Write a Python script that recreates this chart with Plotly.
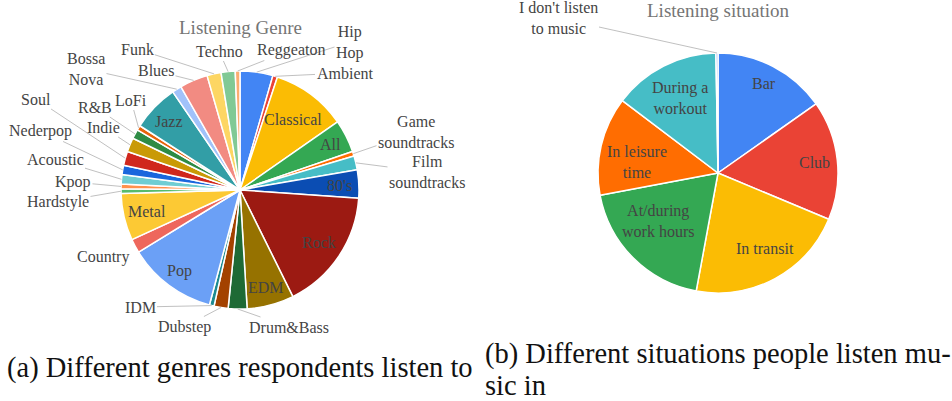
import math
import plotly.graph_objects as go

W, H = 952, 401

# ---------------- data ----------------
genre_labels = ["Hip Hop", "Ambient", "Classical", "All", "Game soundtracks", "Film soundtracks",
                "80's", "Rock", "EDM", "Drum&Bass", "Dubstep", "IDM", "Pop", "Country", "Metal",
                "Hardstyle", "Kpop", "Acoustic", "Nederpop", "Soul", "Indie", "R&B", "LoFi", "Jazz",
                "Bossa Nova", "Blues", "Funk", "Techno", "Reggeaton"]
genre_counts = [7, 1, 16, 7, 1, 3, 6, 26, 10, 4, 3, 1, 19, 3, 10,
                1, 1, 2, 2, 3, 3, 2, 1, 10, 2, 6, 3, 3, 1]

situation_labels = ["Bar", "Club", "In transit", "At/during work hours", "In leisure time",
                    "During a workout", "I don't listen to music"]
situation_counts = [55, 58, 78, 69, 48, 52, 1]

genre_title = "Listening Genre"
situation_title = "Listening situation"
caption_a = "(a) Different genres respondents listen to"
caption_b1 = "(b) Different situations people listen mu-"
caption_b2 = "sic in"

# ---------------- styles ----------------
genre_colors = ["#4285F4", "#EA4335", "#FBBC04", "#34A853", "#FF6D01", "#46BDC6",
                "#0B4DB3", "#9C1A12", "#967200", "#1E6A35", "#A34200", "#1C8A91",
                "#6BA0F6", "#EE675C", "#FCC934", "#57BB6D", "#FF914D", "#6FCDD3",
                "#1A66DD", "#D0271D", "#C99A06", "#2E8B45", "#E8630A", "#329EA6",
                "#A1C2FA", "#F28B82", "#FDD663", "#81C995", "#FCAD70"]
situation_colors = ["#4285F4", "#EA4335", "#FBBC04", "#34A853", "#FF6D01", "#46BDC6", "#7BAAF7"]

FONT = "Liberation Serif, Times New Roman, serif"
TXT = "#444444"
GREY_LINE = "#b0b0b0"

# pie geometry (pixels)
pie1 = dict(cx=240, cy=190, r=119)
pie2 = dict(cx=718, cy=173, r=120)

# inside labels: (radial fraction, angular shift in degrees)
genre_inside = {"Classical": (0.74, 0), "All": (0.85, 0), "80's": (0.84, 0), "Rock": (0.8, 0),
                "EDM": (0.85, 0), "Pop": (0.85, 0), "Metal": (0.8, 0), "Jazz": (0.83, 0)}
# outside labels: label centre (pixels), whether a leader line is drawn
genre_outside = {
    "Hip Hop": (350, 42, True), "Ambient": (345, 73, True),
    "Game soundtracks": (416, 132, True), "Film soundtracks": (427, 172, True),
    "Drum&Bass": (289, 327, True), "Dubstep": (184, 327, True), "IDM": (140, 307, True),
    "Country": (103, 257, False), "Hardstyle": (58, 202, True), "Kpop": (73, 182, True),
    "Acoustic": (55, 159, True), "Nederpop": (41, 131, True), "Soul": (36, 99, True),
    "Indie": (103, 127, True), "R&B": (95, 107, True), "LoFi": (131, 100, True),
    "Bossa Nova": (86, 69, True), "Blues": (156, 71, True), "Funk": (137, 49, True),
    "Techno": (219, 51, True), "Reggeaton": (291, 50, True),
}
genre_multiline = {"Hip Hop": "Hip<br>Hop", "Game soundtracks": "Game<br>soundtracks",
                   "Film soundtracks": "Film<br>soundtracks", "Bossa Nova": "Bossa<br>Nova"}

situation_inside = {"Bar": (0.84, 0), "Club": (0.81, 0), "In transit": (0.74, -3.8),
                    "At/during work hours": (0.64, 6.4), "In leisure time": (0.68, -5.4),
                    "During a workout": (0.7, 0)}
situation_outside = {"I don't listen to music": (558, 18, True)}
situation_multiline = {"At/during work hours": "At/during<br>work hours",
                       "In leisure time": "In leisure<br>time",
                       "During a workout": "During a<br>workout",
                       "I don't listen to music": "I don't listen<br>to music"}


def px2paper(x, y):
    return x / W, 1 - y / H


def domain(p):
    return dict(x=[(p["cx"] - p["r"]) / W, (p["cx"] + p["r"]) / W],
                y=[1 - (p["cy"] + p["r"]) / H, 1 - (p["cy"] - p["r"]) / H])


def mid_angles(vals):
    tot = float(sum(vals))
    out, cum = [], 0.0
    for v in vals:
        out.append((cum + v / 2.0) / tot * 360.0)
        cum += v
    return out


def point(p, ang, frac):
    a = math.radians(ang)
    return p["cx"] + frac * p["r"] * math.sin(a), p["cy"] - frac * p["r"] * math.cos(a)


annotations = []


def text_ann(x, y, text, size=16, color=TXT, xanchor="center"):
    xp, yp = px2paper(x, y)
    return dict(x=xp, y=yp, xref="paper", yref="paper", text=text, showarrow=False,
                xanchor=xanchor, yanchor="middle",
                font=dict(family=FONT, size=size, color=color))


def add_labels(p, labels, vals, inside, outside, multiline):
    mids = mid_angles(vals)
    for lab, ang in zip(labels, mids):
        text = multiline.get(lab, lab)
        if lab in inside:
            frac, shift = inside[lab]
            x, y = point(p, ang + shift, frac)
            annotations.append(text_ann(x, y, text))
        elif lab in outside:
            lx, ly, line = outside[lab]
            if line:
                tx, ty = point(p, ang, 1.0)
                xp, yp = px2paper(tx, ty)
                annotations.append(dict(x=xp, y=yp, xref="paper", yref="paper", text=text,
                                        showarrow=True, arrowhead=0, arrowwidth=0.8,
                                        arrowcolor=GREY_LINE, ax=lx - tx, ay=ly - ty,
                                        axref="pixel", ayref="pixel", standoff=0,
                                        xanchor="center", yanchor="middle",
                                        font=dict(family=FONT, size=16, color=TXT)))
            else:
                annotations.append(text_ann(lx, ly, text))


add_labels(pie1, genre_labels, genre_counts, genre_inside, genre_outside, genre_multiline)
add_labels(pie2, situation_labels, situation_counts, situation_inside, situation_outside,
           situation_multiline)

# titles
annotations.append(text_ann(240, 27, genre_title, size=19, color="#757575"))
annotations.append(text_ann(718, 11, situation_title, size=19, color="#757575"))

# captions
annotations.append(text_ann(5, 368, caption_a, size=28.5, color="#111111", xanchor="left"))
annotations.append(text_ann(483, 354, caption_b1, size=28.5, color="#111111", xanchor="left"))
annotations.append(text_ann(483, 385, caption_b2, size=28.5, color="#111111", xanchor="left"))

fig = go.Figure()
fig.add_trace(go.Pie(labels=genre_labels, values=genre_counts, sort=False, direction="clockwise",
                     rotation=0, textinfo="none", hoverinfo="label+value",
                     marker=dict(colors=genre_colors, line=dict(color="white", width=1.5)),
                     domain=domain(pie1), showlegend=False))
fig.add_trace(go.Pie(labels=situation_labels, values=situation_counts, sort=False,
                     direction="clockwise", rotation=0, textinfo="none",
                     hoverinfo="label+value",
                     marker=dict(colors=situation_colors, line=dict(color="white", width=1.5)),
                     domain=domain(pie2), showlegend=False))

fig.update_layout(width=W, height=H, autosize=False, margin=dict(l=0, r=0, t=0, b=0),
                  paper_bgcolor="white", plot_bgcolor="white", showlegend=False,
                  annotations=annotations)

fig.write_html("out.html")
